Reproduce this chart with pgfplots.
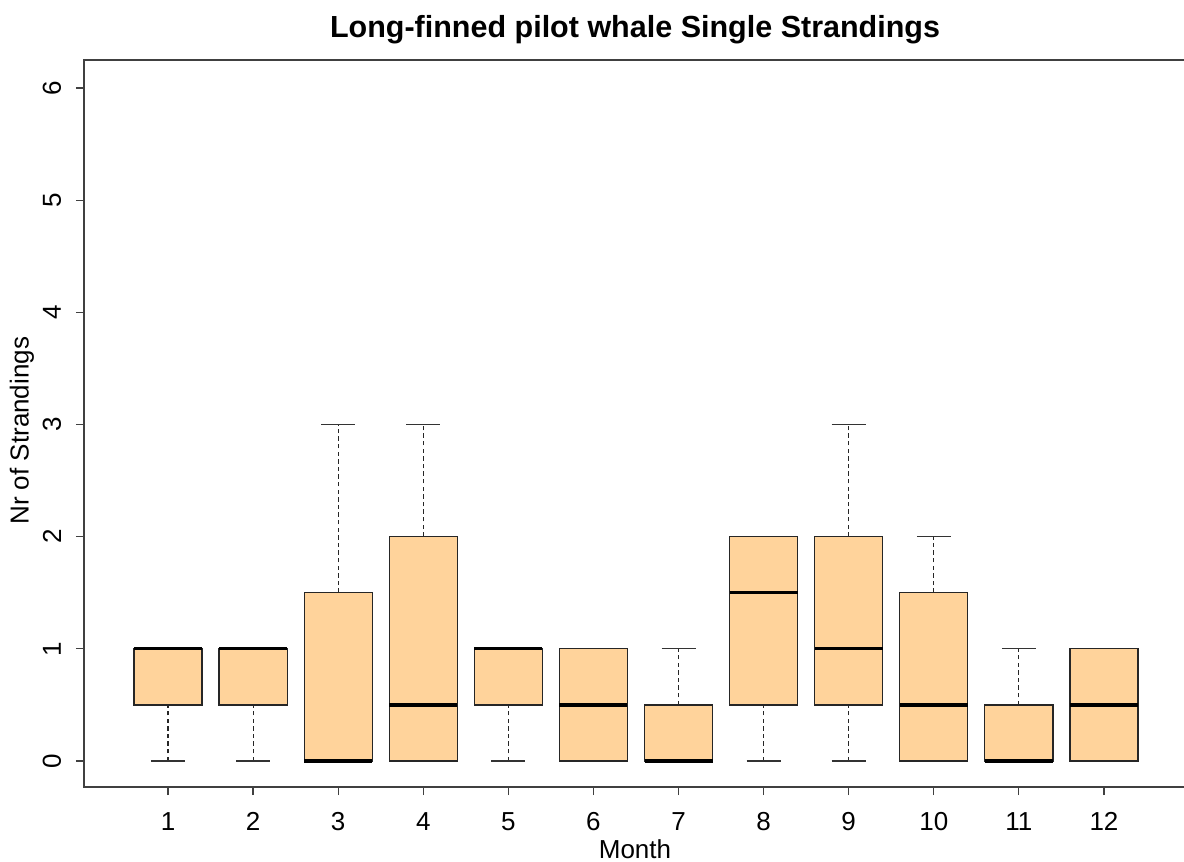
\documentclass[border=0pt]{standalone}
\usepackage{fontspec}
\setmainfont{Liberation Sans}
\usepackage{pgfplots}
\pgfplotsset{compat=1.18}
\usepgfplotslibrary{statistics}
\definecolor{boxfill}{RGB}{255,211,155}
\begin{document}
\begin{tikzpicture}
\begin{axis}[
  scale only axis,
  width=551pt, height=363.5pt,
  xmin=0.0128, xmax=12.964,
  ymin=-0.2318, ymax=6.2495,
  xtick={1,2,3,4,5,6,7,8,9,10,11,12},
  ytick={0,1,2,3,4,5,6},
  /pgf/number format/assume math mode=true,
  tick align=outside,
  xtick pos=lower, ytick pos=left,
  major tick length=4pt,
  axis line style={black!75, line width=0.8pt},
  tick style={black!75, line width=0.6pt},
  ticklabel style={font=\fontsize{13}{15}\selectfont},
  xticklabel style={anchor=base, yshift=-17.5pt},
  yticklabel style={xshift=-12pt, rotate=90, anchor=center},
  title={Long-finned pilot whale Single Strandings},
  title style={font=\bfseries\fontsize{15.25}{18}\selectfont, at={(axis description cs:0.5,1)}, anchor=center, yshift=9pt},
  xlabel={Month},
  xlabel style={font=\fontsize{13}{15}\selectfont, at={(axis description cs:0.5,0)}, anchor=center, yshift=-31pt},
  ylabel={Nr of Strandings},
  ylabel style={font=\fontsize{13}{15}\selectfont, at={(axis description cs:0,0.49)}, anchor=center, yshift=31pt},
  boxplot/draw direction=y,
  boxplot/box extend=0.8,
  boxplot/whisker extend=0.4,
  boxplot/draw/lower whisker/.code={%
    \draw[black!85, line width=0.55pt, dash pattern=on 2.2pt off 1.6pt]
      (boxplot box cs:\pgfplotsboxplotvalue{lower whisker},0.5) --
      (boxplot box cs:\pgfplotsboxplotvalue{lower quartile},0.5);
    \draw[black!80, line width=0.6pt]
      (boxplot whisker cs:\pgfplotsboxplotvalue{lower whisker},0) --
      (boxplot whisker cs:\pgfplotsboxplotvalue{lower whisker},1);
  },
  boxplot/draw/upper whisker/.code={%
    \draw[black!85, line width=0.55pt, dash pattern=on 2.2pt off 1.6pt]
      (boxplot box cs:\pgfplotsboxplotvalue{upper quartile},0.5) --
      (boxplot box cs:\pgfplotsboxplotvalue{upper whisker},0.5);
    \draw[black!80, line width=0.6pt]
      (boxplot whisker cs:\pgfplotsboxplotvalue{upper whisker},0) --
      (boxplot whisker cs:\pgfplotsboxplotvalue{upper whisker},1);
  },
  boxplot/every box/.style={draw=black!85, line width=0.6pt, fill=boxfill},
  boxplot/every median/.style={draw=black, line width=1.6pt},
  every axis plot/.append style={black, solid, mark=none},
]
\addplot[boxplot prepared={draw position=1, lower whisker=0, lower quartile=0.5, median=1, upper quartile=1, upper whisker=1}] coordinates {};
\addplot[boxplot prepared={draw position=2, lower whisker=0, lower quartile=0.5, median=1, upper quartile=1, upper whisker=1}] coordinates {};
\addplot[boxplot prepared={draw position=3, lower whisker=0, lower quartile=0, median=0, upper quartile=1.5, upper whisker=3}] coordinates {};
\addplot[boxplot prepared={draw position=4, lower whisker=0, lower quartile=0, median=0.5, upper quartile=2, upper whisker=3}] coordinates {};
\addplot[boxplot prepared={draw position=5, lower whisker=0, lower quartile=0.5, median=1, upper quartile=1, upper whisker=1}] coordinates {};
\addplot[boxplot prepared={draw position=6, lower whisker=0, lower quartile=0, median=0.5, upper quartile=1, upper whisker=1}] coordinates {};
\addplot[boxplot prepared={draw position=7, lower whisker=0, lower quartile=0, median=0, upper quartile=0.5, upper whisker=1}] coordinates {};
\addplot[boxplot prepared={draw position=8, lower whisker=0, lower quartile=0.5, median=1.5, upper quartile=2, upper whisker=2}] coordinates {};
\addplot[boxplot prepared={draw position=9, lower whisker=0, lower quartile=0.5, median=1, upper quartile=2, upper whisker=3}] coordinates {};
\addplot[boxplot prepared={draw position=10, lower whisker=0, lower quartile=0, median=0.5, upper quartile=1.5, upper whisker=2}] coordinates {};
\addplot[boxplot prepared={draw position=11, lower whisker=0, lower quartile=0, median=0, upper quartile=0.5, upper whisker=1}] coordinates {};
\addplot[boxplot prepared={draw position=12, lower whisker=0, lower quartile=0, median=0.5, upper quartile=1, upper whisker=1}] coordinates {};
\coordinate (SW) at (rel axis cs:0,0);
\coordinate (NE) at (rel axis cs:1,1);
\end{axis}
\pgfresetboundingbox
\path[use as bounding box] ([xshift=-42pt,yshift=-37.5pt]SW) rectangle ([xshift=-1pt,yshift=30pt]NE);
\end{tikzpicture}
\end{document}
